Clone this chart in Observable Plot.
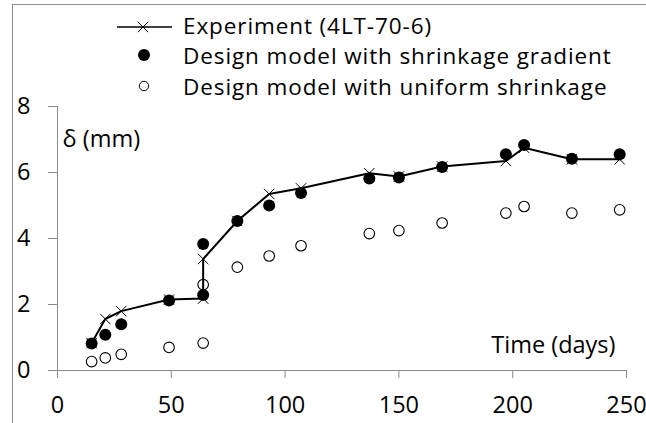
<!DOCTYPE html>
<html><head><meta charset="utf-8">
<script src="https://cdn.jsdelivr.net/npm/d3@7"></script>
<script src="https://cdn.jsdelivr.net/npm/@observablehq/plot@0.6"></script>
<style>
body{margin:0;background:#fff;overflow:hidden;}
#wrap{position:relative;width:646px;height:423px;font-family:"Open Sans",sans-serif;}
#border{position:absolute;left:12px;top:4px;width:700px;height:500px;border:1px solid #8e8e8e;box-sizing:border-box;}
#chart{position:absolute;left:0;top:0;}
#legend{position:absolute;left:0;top:0;}
</style>
</head><body>
<div id="wrap">
<div id="border"></div>
<div id="chart"></div>
<svg id="legend" width="646" height="423"></svg>
</div>
<script>
const xTicks = [0, 50, 100, 150, 200, 250];
const yTicks = [0, 2, 4, 6, 8];

const expDays  = [15, 21, 28, 49, 64, 64, 79, 93, 107, 137, 150, 169, 197, 205, 226, 247];
const expDelta = [0.83, 1.56, 1.8, 2.15, 2.18, 3.38, 4.53, 5.35, 5.52, 5.98, 5.88, 6.18, 6.35, 6.75, 6.4, 6.4];

const gradDays  = [15, 21, 28, 49, 64, 64, 79, 93, 107, 137, 150, 169, 197, 205, 226, 247];
const gradDelta = [0.82, 1.08, 1.4, 2.12, 2.29, 3.83, 4.53, 5.0, 5.38, 5.82, 5.85, 6.17, 6.55, 6.83, 6.42, 6.55];

const uniDays  = [15, 21, 28, 49, 64, 64, 79, 93, 107, 137, 150, 169, 197, 205, 226, 247];
const uniDelta = [0.27, 0.38, 0.49, 0.70, 0.83, 2.6, 3.13, 3.47, 3.78, 4.15, 4.24, 4.47, 4.77, 4.97, 4.77, 4.87];

const legendLabels = ["Experiment (4LT-70-6)", "Design model with shrinkage gradient", "Design model with uniform shrinkage"];
const yLabel = "δ (mm)";
const xLabel = "Time (days)";

const exp = expDays.map((d, i) => ({x: d, y: expDelta[i]}));
const grad = gradDays.map((d, i) => ({x: d, y: gradDelta[i]}));
const uni = uniDays.map((d, i) => ({x: d, y: uniDelta[i]}));

const FONT = "'Open Sans', sans-serif";
const axisGray = "#8c8c8c";
const chart = Plot.plot({
  width: 646, height: 423,
  marginLeft: 57, marginRight: 20, marginTop: 106, marginBottom: 53,
  x: {domain: [0, 250]},
  y: {domain: [0, 8]},
  style: {fontFamily: FONT, fontSize: "23.5px", color: "#000", background: "transparent", overflow: "visible"},
  marks: [
    Plot.ruleY([0], {stroke: axisGray}),
    Plot.ruleX([0], {stroke: axisGray}),
    Plot.axisX({ticks: xTicks, tickSize: 8, tickPadding: 18, stroke: axisGray, fill: "#000", label: null, tickFormat: d => String(d)}),
    Plot.axisY({ticks: yTicks, tickSize: 9, tickPadding: 18, stroke: axisGray, fill: "#000", label: null, tickFormat: d => String(d)}),
    Plot.text([yLabel], {frameAnchor: "top-left", dx: 5, dy: 24, textAnchor: "start", fill: "#000", fontSize: 23.5}),
    Plot.text([xLabel], {frameAnchor: "bottom-right", dx: -11, dy: -18, textAnchor: "end", fill: "#000", fontSize: 23.5, letterSpacing: 0.3}),
    Plot.line(exp, {x: "x", y: "y", stroke: "#000", strokeWidth: 2}),
    Plot.dot(exp, {x: "x", y: "y", symbol: "times", r: 4.8, stroke: "#000", strokeWidth: 1}),
    Plot.dot(grad, {x: "x", y: "y", r: 6, fill: "#000", stroke: "none"}),
    Plot.dot(uni, {x: "x", y: "y", r: 5.3, fill: "none", stroke: "#000", strokeWidth: 1.1})
  ]
});
document.getElementById("chart").appendChild(chart);

// legend
const lg = d3.select("#legend");
const rows = [{y: 27, b: 33.5}, {y: 55, b: 64}, {y: 86, b: 94.5}];
const tx = 183;
lg.append("line").attr("x1", 117).attr("x2", 172).attr("y1", rows[0].y).attr("y2", rows[0].y).attr("stroke", "#000").attr("stroke-width", 1.5);
lg.append("path").attr("d", d3.symbol(d3.symbolTimes, Math.PI * 4.8 * 4.8)()).attr("transform", `translate(143,${rows[0].y})`).attr("stroke", "#000").attr("fill", "none");
lg.append("circle").attr("cx", 144).attr("cy", rows[1].y).attr("r", 6).attr("fill", "#000");
lg.append("circle").attr("cx", 144).attr("cy", rows[2].y).attr("r", 4.7).attr("fill", "none").attr("stroke", "#000");
legendLabels.forEach((t, i) => {
  lg.append("text").attr("x", tx).attr("y", rows[i].b)
    .style("font-family", FONT).style("font-size", "22.5px").style("letter-spacing", "0.9px")
    .attr("fill", "#000").text(t);
});
</script>
</body></html>
